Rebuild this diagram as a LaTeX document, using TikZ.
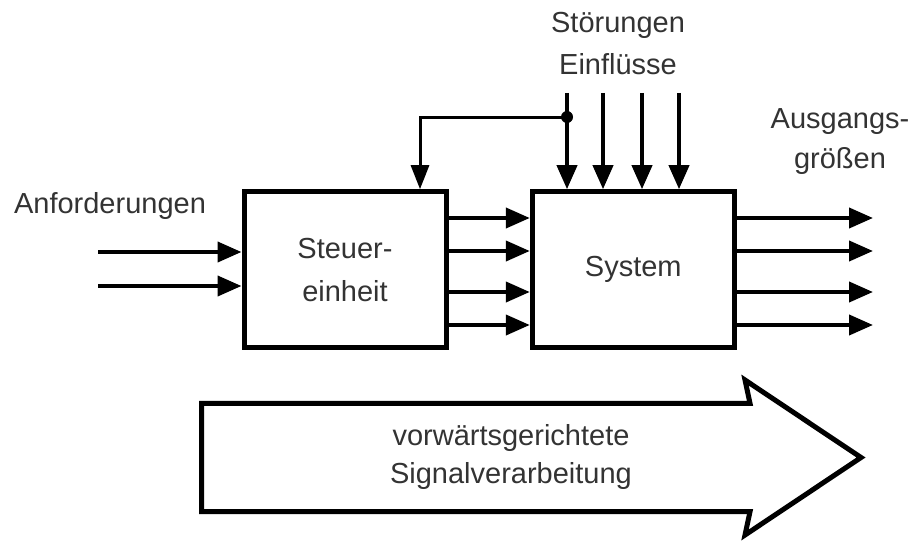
\documentclass[tikz,border=0pt]{standalone}
\usepackage{fontspec}
\setmainfont{Liberation Sans}
\usetikzlibrary{arrows.meta}

\begin{document}
\begin{tikzpicture}[
  x=0.5pt, y=-0.5pt,
  block/.style={rectangle, draw, line width=2.5pt, minimum width=101pt, minimum height=78pt,
    align=center, text=black!80, font=\fontsize{14.5}{21.5}\selectfont},
  sig/.style={-{Triangle[length=12pt,width=10pt]}, line width=2pt},
  feedback/.style={-{Triangle[length=12pt,width=9pt]}, line width=1.5pt},
  lbl/.style={align=center, text=black!80, font=\fontsize{14.5}{21}\selectfont}
]
  \useasboundingbox (0,0) rectangle (914,540);

  % Bloecke
  \node[block] (steuer) at (345,269.7) {Steuer-\\einheit};
  \node[block] (system) at (633.3,269.7) {System};

  % Anforderungen -> Steuereinheit
  \foreach \y [count=\i] in {252,286} {
    \coordinate (in\i) at (98,\y);
    \draw[sig] (in\i) -- (in\i -| steuer.west);
  }

  % Stellgroessen und Ausgangsgroessen
  \foreach \y [count=\i] in {218,251,292,325} {
    \coordinate (out\i) at (873,\y);
    \draw[sig] (steuer.east |- out\i) -- (system.west |- out\i);
    \draw[sig] (system.east |- out\i) -- (out\i);
  }

  % Stoerungen von oben
  \foreach \x [count=\i] in {567,603,642,679} {
    \coordinate (dist\i) at (\x,93);
    \draw[sig] (dist\i) -- (dist\i |- system.north);
  }

  % Abgriff zur Steuereinheit
  \coordinate (tap) at (567,117);
  \fill (tap) circle[radius=3pt];
  \draw[feedback] (tap) -| ([xshift=37.5pt]steuer.north);

  % Beschriftungen
  \node[lbl, anchor=base] (anf) at (110,213) {Anforderungen};
  \node[lbl, font=\fontsize{14.5}{21}\selectfont] (stoer) at (618,43.5) {Störungen\\Einflüsse};
  \node[lbl, font=\fontsize{14.5}{20}\selectfont] (ausg) at (840,142) {Ausgangs-\\größen};

  % Wirkrichtung
  \draw[line width=2.5pt] (201.7,403.3) -- (750,403.3) -- (745,380) -- (861,457.5)
    -- (745,535) -- (750,511.7) -- (201.7,511.7) -- cycle;
  \node[lbl, font=\fontsize{14.5}{19}\selectfont] (fwd) at (511,456.5)
    {vorwärtsgerichtete\\Signalverarbeitung};
\end{tikzpicture}
\end{document}
